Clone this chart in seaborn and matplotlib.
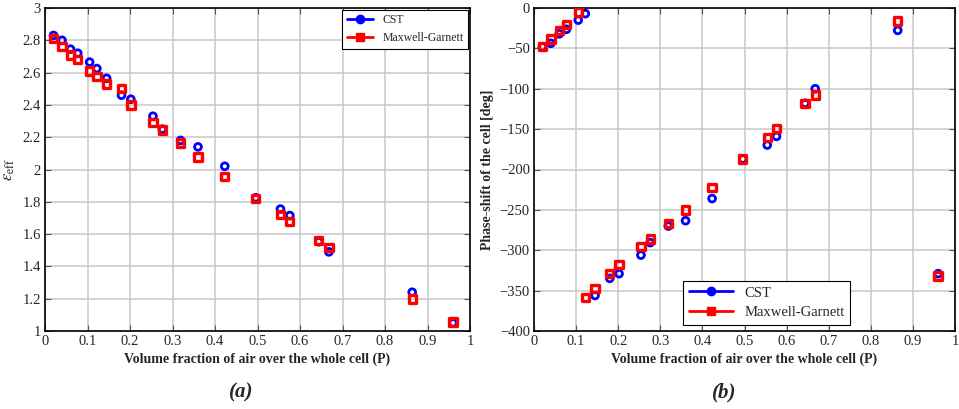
import numpy as np
import pandas as pd
import matplotlib
matplotlib.use("Agg")
import matplotlib.pyplot as plt
import seaborn as sns
from matplotlib.lines import Line2D

# volume fraction of air (P)
frac = [0.02, 0.04, 0.06, 0.077, 0.105, 0.122, 0.145, 0.18, 0.202, 0.254, 0.276,
        0.319, 0.36, 0.423, 0.496, 0.554, 0.576, 0.644, 0.668, 0.864, 0.96]

# effective permittivity
eps_cst = [2.83, 2.80, 2.745, 2.72, 2.665, 2.625, 2.565, 2.46, 2.435, 2.33, 2.25,
           2.18, 2.14, 2.02, 1.825, 1.755, 1.715, 1.553, 1.49, 1.24, 1.05]
eps_mg = [2.81, 2.76, 2.71, 2.68, 2.61, 2.575, 2.53, 2.50, 2.40, 2.29, 2.245,
          2.165, 2.077, 1.955, 1.82, 1.72, 1.68, 1.559, 1.518, 1.198, 1.055]

# phase shift of the cell [deg]
ph_cst = [-48, -43.7, -32, -26.4, -15, -7, -356, -334.8, -329, -306, -290.6,
          -270, -263.4, -236, -187, -169.7, -159, -118, -100, -27.7, -329]
ph_mg = [-48, -38.4, -28, -20.2, -5, -358.7, -347, -329, -318, -295.6, -286,
         -267, -250, -222, -187, -160, -149, -118, -107.7, -16, -332]

labels = ["CST", "Maxwell-Garnett"]

sns.set_theme(style="whitegrid")
plt.rcParams['font.family'] = ['serif']
plt.rcParams['font.serif'] = ['Liberation Serif', 'DejaVu Serif']
plt.rcParams['mathtext.fontset'] = 'stix'

fig = plt.figure(figsize=(9.59, 4.09), dpi=100)
ax1 = fig.add_axes([45/959, 78/409, 425/959, 323/409])
ax2 = fig.add_axes([534/959, 78/409, 421/959, 323/409])


def draw(ax, y_cst, y_mg):
    sns.scatterplot(x=frac, y=y_cst, ax=ax, marker='o', s=24, facecolor='none',
                    edgecolor='#0000ff', linewidth=2.0, zorder=3)
    sns.scatterplot(x=frac, y=y_mg, ax=ax, marker='s', s=28, facecolor='none',
                    edgecolor='#ff0000', linewidth=2.4, zorder=4)
    ax.set_xlim(0, 1)
    ax.set_xticks(np.arange(0, 1.01, 0.1))
    ax.set_xticklabels(["0", "0.1", "0.2", "0.3", "0.4", "0.5", "0.6", "0.7", "0.8", "0.9", "1"])
    ax.grid(True, color='#c8c8c8', linewidth=1.1)
    for s in ax.spines.values():
        s.set_visible(True)
        s.set_color('black')
        s.set_linewidth(1.2)
    ax.tick_params(direction='in', length=4, width=0.8, color='#555555',
                   top=True, right=True, bottom=True, left=True,
                   labelsize=10.5, pad=3)
    ax.set_xlabel("Volume fraction of air over the whole cell (P)",
                  fontsize=10, fontweight='bold', labelpad=3)


draw(ax1, eps_cst, eps_mg)
ax1.set_ylim(1, 3)
ax1.set_yticks(np.arange(1, 3.01, 0.2))
ax1.set_yticklabels(["1", "1.2", "1.4", "1.6", "1.8", "2", "2.2", "2.4", "2.6", "2.8", "3"])
ax1.set_ylabel(r"$\epsilon_{\rm eff}$", fontsize=12, labelpad=4)

draw(ax2, ph_cst, ph_mg)
ax2.set_ylim(-400, 0)
ax2.set_yticks(np.arange(-400, 1, 50))
ax2.set_yticklabels(["\u2212400", "\u2212350", "\u2212300", "\u2212250", "\u2212200",
                     "\u2212150", "\u2212100", "\u221250", "0"])
ax2.set_ylabel("Phase-shift of the cell [deg]", fontsize=10, fontweight='bold', labelpad=4)

handles = [Line2D([], [], color='#0000ff', marker='o', markersize=6, linewidth=2,
                  markerfacecolor='#0000ff'),
           Line2D([], [], color='#ff0000', marker='s', markersize=6, linewidth=2,
                  markerfacecolor='#ff0000')]

leg1 = ax1.legend(handles, labels, loc='upper right', fontsize=8.5, frameon=True,
                  fancybox=False, edgecolor='black', framealpha=1, borderpad=0.4,
                  handlelength=2.2, labelspacing=0.5, borderaxespad=0.15)
leg1.get_frame().set_linewidth(0.8)

leg2 = ax2.legend(handles, labels, loc='lower left', bbox_to_anchor=(0.354, 0.018),
                  fontsize=10.5, frameon=True, fancybox=False, edgecolor='black',
                  framealpha=1, borderpad=0.4, handlelength=3.0, labelspacing=0.45,
                  borderaxespad=0)
leg2.get_frame().set_linewidth(0.8)

fig.text(0.252, 0.04, "(a)", ha='center', va='center', fontsize=15,
         fontweight='bold', style='italic')
fig.text(0.755, 0.04, "(b)", ha='center', va='center', fontsize=15,
         fontweight='bold', style='italic')

fig.savefig("out.png", dpi=100)
